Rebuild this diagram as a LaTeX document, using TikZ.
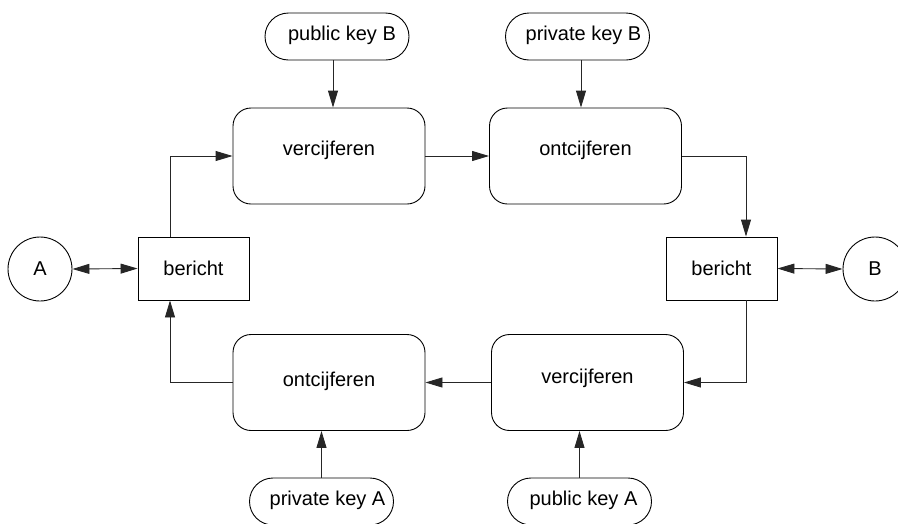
\documentclass[tikz,border=0pt]{standalone}
\usepackage{fontspec}
\setmainfont{Liberation Sans}
\usetikzlibrary{arrows.meta,shapes.misc}

\begin{document}
\begin{tikzpicture}[x=1pt,y=-1pt,
  every node/.style={font=\fontsize{20}{24}\selectfont, line width=0.9pt, inner sep=0pt},
  party/.style={draw, circle, minimum size=64pt},
  msgbox/.style={draw, rectangle, minimum width=111pt, minimum height=63pt},
  cipher/.style={draw, rounded corners=18pt, minimum width=192pt, minimum height=96pt},
  keynode/.style={draw, rounded rectangle, minimum width=144pt, minimum height=47pt},
  conn/.style={line width=0.9pt, draw=black!85, -{Triangle[length=17pt,width=10pt]}},
  biconn/.style={line width=0.9pt, draw=black!85, {Triangle[length=17pt,width=10pt]}-{Triangle[length=17pt,width=10pt]}}
]
\useasboundingbox (0,0) rectangle (898,523);
\clip (0,0) rectangle (898,523);

% parties
\node[party] (A) at (40,269) {A};
\node[party] (B) at (875,269) {B};

% messages
\node[msgbox] (bL) at (193.5,268.5) {bericht};
\node[msgbox] (bR) at (721.5,268.5) {bericht};

% encryption / decryption steps
\node[cipher, label={[yshift=6pt]center:vercijferen}] (vT) at (329,156) {};
\node[cipher, label={[yshift=6pt]center:ontcijferen}] (oT) at (585.5,156) {};
\node[cipher, label={[yshift=4pt]center:vercijferen}] (vB) at (587.5,382.5) {};
\node[cipher, label={[yshift=1pt]center:ontcijferen}] (oB) at (329,382.5) {};

% keys
\node[keynode, label={[xshift=5pt,yshift=1pt]center:public key B}] (pkB) at (337,36.5) {};
\node[keynode, label={[xshift=6pt,yshift=1pt]center:private key B}] (prB) at (577.5,36.5) {};
\node[keynode, label={[xshift=6pt,yshift=1pt]center:private key A}] (prA) at (321.5,501.5) {};
\node[keynode, label={[xshift=4pt,yshift=1pt]center:public key A}] (puA) at (579.5,501.5) {};

% message flow A -> B
\draw[biconn] (A.east) -- (bL.west);
\draw[conn] ([xshift=-23.5pt]bL.north) |- (vT.west);
\draw[conn] (vT.east) -- (oT.west);
\draw[conn] (oT.east) -| ([xshift=24.5pt]bR.north);
\draw[biconn] (bR.east) -- (B.west);

% message flow B -> A
\draw[conn] ([xshift=24.5pt]bR.south) |- (vB.east);
\draw[conn] (vB.west) -- (oB.east);
\draw[conn] (oB.west) -| ([xshift=-23.5pt]bL.south);

% keys into the steps
\draw[conn] ([xshift=-4pt]pkB.south) -- ([xshift=-4pt]pkB.south |- vT.north);
\draw[conn] ([xshift=3.5pt]prB.south) -- ([xshift=3.5pt]prB.south |- oT.north);
\draw[conn] (prA.north) -- (prA.north |- oB.south);
\draw[conn] (puA.north) -- (puA.north |- vB.south);
\end{tikzpicture}
\end{document}
